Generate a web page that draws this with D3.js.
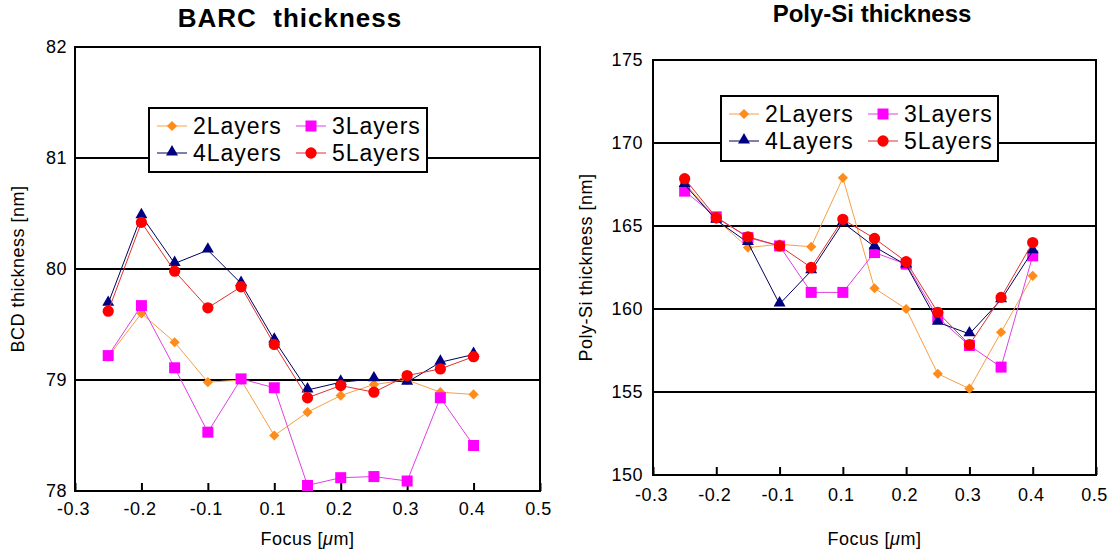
<!DOCTYPE html>
<html>
<head>
<meta charset="utf-8">
<script src="https://cdn.jsdelivr.net/npm/d3@7"></script>
<style>
  body { margin: 0; background: #fff; }
  svg { display: block; }
  text { font-family: 'Liberation Sans', Arial, sans-serif; }
</style>
</head>
<body>
<svg id="chart" width="1108" height="556"></svg>
<script>
// half-step focus categories as the chart labels them
const focusAxis = ['-0.3', '-0.25', '-0.2', '-0.15', '-0.1', '-0.05', '0.1', '0.15',
  '0.2', '0.25', '0.3', '0.35', '0.4', '0.45', '0.5'];
const focusTicks = ['-0.3', '-0.2', '-0.1', '0.1', '0.2', '0.3', '0.4', '0.5'];
const focus = ['-0.25', '-0.2', '-0.15', '-0.1', '-0.05', '0.1', '0.15', '0.2', '0.25', '0.3', '0.35', '0.4'];

const seriesNames = ['2Layers', '3Layers', '4Layers', '5Layers'];

// BARC thickness [nm]
const barc2 = [79.21, 79.60, 79.34, 78.98, 79.00, 78.50, 78.71, 78.86, 78.96, 79.00, 78.89, 78.87];
const barc3 = [79.22, 79.67, 79.11, 78.53, 79.01, 78.93, 78.05, 78.12, 78.13, 78.09, 78.84, 78.41];
const barc4 = [79.69, 80.48, 80.05, 80.17, 79.87, 79.36, 78.91, 78.98, 79.01, 78.98, 79.16, 79.23];
const barc5 = [79.62, 80.42, 79.98, 79.65, 79.84, 79.32, 78.84, 78.95, 78.89, 79.04, 79.10, 79.21];
const barcTicks = [78, 79, 80, 81, 82];

// Poly-Si thickness [nm]
const poly2 = [167.6, 165.4, 163.7, 163.9, 163.75, 167.9, 161.25, 160.0, 156.1, 155.2, 158.6, 162.0];
const poly3 = [167.1, 165.55, 164.3, 163.8, 161.0, 161.0, 163.4, 162.7, 159.5, 157.8, 156.5, 163.2];
const poly4 = [167.5, 165.35, 164.0, 160.3, 162.3, 165.2, 163.75, 162.65, 159.2, 158.5, 160.55, 163.5];
const poly5 = [167.85, 165.5, 164.35, 163.8, 162.5, 165.4, 164.25, 162.85, 159.8, 157.85, 160.7, 164.0];
const polyTicks = [150, 155, 160, 165, 170, 175];

const styles = [
  { line: '#f5a04a', fill: '#ff8c1a', shape: 'diamond' },
  { line: '#e040e0', fill: '#ff00ff', shape: 'square' },
  { line: '#000060', fill: '#000080', shape: 'triangle' },
  { line: '#e03030', fill: '#ff0000', shape: 'circle' },
];

const svg = d3.select('#chart');

const marker = (sel, shape) => {
  if (shape === 'diamond') {
    sel.append('path')
      .attr('d', d3.symbol(d3.symbolSquare, 52)())
      .attr('transform', 'rotate(45)');
  } else if (shape === 'square') {
    sel.append('path').attr('d', d3.symbol(d3.symbolSquare, 121)());
  } else if (shape === 'triangle') {
    sel.append('path')
      .attr('d', d3.symbol(d3.symbolTriangle, 62)())
      .attr('transform', 'translate(0 -1)');
  } else {
    sel.append('path').attr('d', d3.symbol(d3.symbolCircle, 100)());
  }
};

const drawPanel = (o) => {
  const g = svg.append('g');

  const x = d3.scalePoint().domain(focusAxis).range([o.left, o.right]);
  const y = d3.scaleLinear().domain(d3.extent(o.yTicks)).range([o.bottom, o.top]);

  // horizontal grid lines
  g.append('g').selectAll('line')
    .data(o.yTicks.slice(1, -1))
    .join('line')
    .attr('x1', o.left)
    .attr('x2', o.right)
    .attr('y1', (d) => y(d))
    .attr('y2', (d) => y(d))
    .attr('stroke', '#000')
    .attr('stroke-width', 2);

  // y tick labels
  g.append('g').selectAll('text')
    .data(o.yTicks)
    .join('text')
    .attr('x', o.left - o.yPad)
    .attr('y', (d) => y(d))
    .attr('dy', '0.35em')
    .attr('text-anchor', 'end')
    .style('font-size', '18px')
    .style('letter-spacing', '0.5px')
    .text((d) => d);

  // x axis with inward ticks
  const xAxis = d3.axisBottom(x)
    .tickValues(focusTicks)
    .tickSize(-8)
    .tickPadding(o.xPad);
  const ax = g.append('g')
    .attr('transform', `translate(0 ${o.bottom})`)
    .call(xAxis);
  ax.select('.domain').remove();
  ax.selectAll('line').attr('stroke', '#000').attr('stroke-width', 2);
  ax.selectAll('text')
    .attr('dx', '-2')
    .style('font-size', '18px')
    .style('letter-spacing', '0.5px')
    .style('font-family', "'Liberation Sans', Arial, sans-serif")
    .attr('fill', '#000');

  // frame
  g.append('rect')
    .attr('x', o.left)
    .attr('y', o.top)
    .attr('width', o.right - o.left)
    .attr('height', o.bottom - o.top)
    .attr('fill', 'none')
    .attr('stroke', '#000')
    .attr('stroke-width', 2);

  // series
  const line = d3.line()
    .x((d, i) => x(focus[i]))
    .y((d) => y(d));

  o.series.forEach((vals, k) => {
    const s = styles[k];
    const sg = g.append('g');
    sg.append('path')
      .datum(vals)
      .attr('d', line)
      .attr('fill', 'none')
      .attr('stroke', s.line)
      .attr('stroke-width', 1);
    sg.selectAll('g')
      .data(vals)
      .join('g')
      .attr('transform', (d, i) => `translate(${x(focus[i])} ${y(d)})`)
      .attr('fill', s.fill)
      .each(function () { marker(d3.select(this), s.shape); });
  });

  // legend
  const lg = g.append('g');
  lg.append('rect')
    .attr('x', o.legend.x)
    .attr('y', o.legend.y)
    .attr('width', o.legend.w)
    .attr('height', o.legend.h)
    .attr('fill', '#fff')
    .attr('stroke', '#000')
    .attr('stroke-width', 2);
  seriesNames.forEach((name, k) => {
    const s = styles[k];
    const col = k % 2;
    const row = Math.floor(k / 2);
    const lx = o.legend.x + 8 + col * 139;
    const ly = o.legend.y + 18 + row * 27;
    lg.append('line')
      .attr('x1', lx)
      .attr('x2', lx + 30)
      .attr('y1', ly)
      .attr('y2', ly)
      .attr('stroke', s.line)
      .attr('stroke-width', 1);
    const mg = lg.append('g')
      .attr('transform', `translate(${lx + 15} ${ly})`)
      .attr('fill', s.fill);
    marker(mg, s.shape);
    lg.append('text')
      .attr('x', lx + 36)
      .attr('y', ly)
      .attr('dy', '0.36em')
      .style('font-size', '23px')
      .style('letter-spacing', '1px')
      .text(name);
  });

  // titles
  g.append('text')
    .attr('x', o.titleX)
    .attr('y', o.titleY)
    .attr('text-anchor', 'middle')
    .style('font-size', `${o.titleSize}px`)
    .style('letter-spacing', `${o.titleSpacing}px`)
    .style('font-weight', 'bold')
    .style('white-space', 'pre')
    .text(o.title);

  g.append('text')
    .attr('transform', `translate(${o.yTitleX} ${(o.top + o.bottom) / 2}) rotate(-90)`)
    .attr('text-anchor', 'middle')
    .style('font-size', '18px')
    .style('letter-spacing', '0.5px')
    .text(o.yTitle);

  const xt = g.append('text')
    .attr('x', (o.left + o.right) / 2)
    .attr('y', 545)
    .attr('text-anchor', 'middle')
    .style('font-size', '18px')
    .style('letter-spacing', '0.5px');
  xt.append('tspan').text('Focus [');
  xt.append('tspan').style('font-style', 'italic').text('\u03bc');
  xt.append('tspan').text('m]');
};

drawPanel({
  left: 75, right: 540, top: 47, bottom: 491,
  yTicks: barcTicks,
  series: [barc2, barc3, barc4, barc5],
  yPad: 8, xPad: 11,
  legend: { x: 149, y: 108, w: 278, h: 64 },
  title: 'BARC  thickness', titleX: 290, titleY: 27, titleSize: 26, titleSpacing: 1,
  yTitle: 'BCD thickness [nm]', yTitleX: 24,
});

drawPanel({
  left: 653, right: 1096, top: 60, bottom: 475,
  yTicks: polyTicks,
  series: [poly2, poly3, poly4, poly5],
  yPad: 10, xPad: 13,
  legend: { x: 721, y: 96, w: 277, h: 65 },
  title: 'Poly-Si thickness', titleX: 872, titleY: 22, titleSize: 24, titleSpacing: 0,
  yTitle: 'Poly-Si thickness [nm]', yTitleX: 592,
});
</script>
</body>
</html>
